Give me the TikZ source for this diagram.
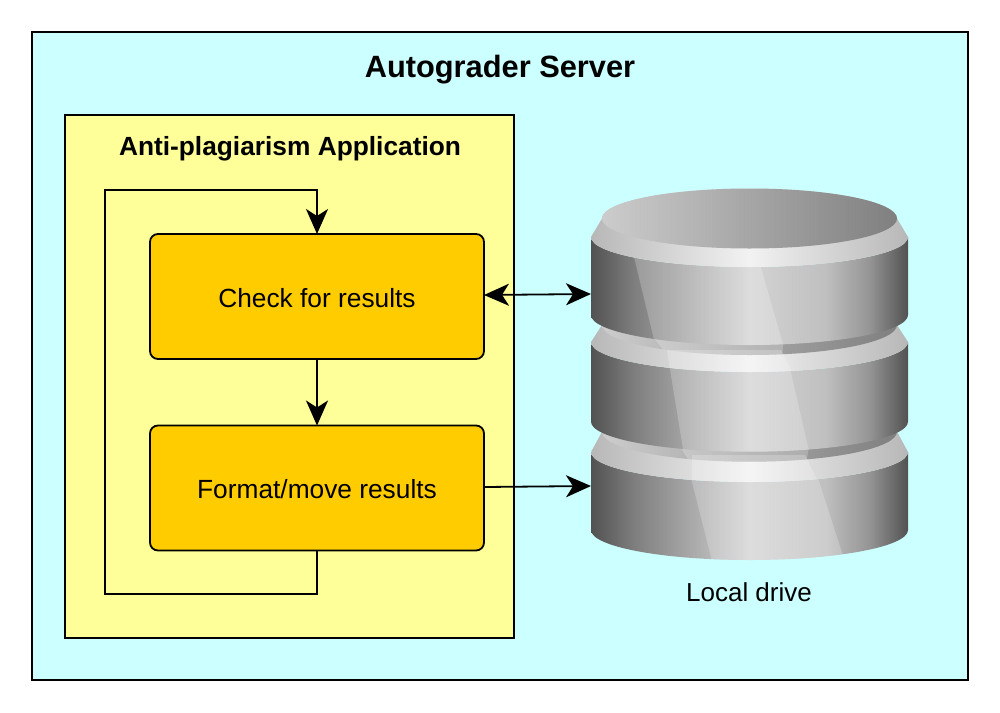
\documentclass[tikz,border=0pt]{standalone}
\usepackage{fontspec}
\setmainfont{Liberation Sans}
\usetikzlibrary{arrows.meta}
\definecolor{srv}{HTML}{CCFFFF}
\definecolor{appc}{HTML}{FFFF99}
\definecolor{boxc}{HTML}{FFCC00}
\pgfdeclarehorizontalshading{bodysh}{100bp}{color(0bp)=(black!68); color(25bp)=(black!68); color(32bp)=(black!50); color(50bp)=(black!17); color(62bp)=(black!25); color(69bp)=(black!42); color(75bp)=(black!68); color(100bp)=(black!68)}
\pgfdeclarehorizontalshading{bevelsh}{100bp}{color(0bp)=(black!28); color(25bp)=(black!28); color(50bp)=(black!5); color(75bp)=(black!28); color(100bp)=(black!28)}
\pgfdeclarehorizontalshading{topsh}{100bp}{color(0bp)=(black!20); color(25bp)=(black!20); color(75bp)=(black!50); color(100bp)=(black!50)}
\newcommand{\bodyp}[2]{(591,#1) -- (591,#2) arc[start angle=180,end angle=360,x radius=158.5pt,y radius=30pt] -- (908,#1) arc[start angle=360,end angle=180,x radius=158.5pt,y radius=30pt] -- cycle}
\newcommand{\bevelp}[2]{(602,#1) -- (591,#2) arc[start angle=180,end angle=360,x radius=158.5pt,y radius=30pt] -- (897,#1) arc[start angle=0,end angle=180,x radius=147.5pt,y radius=30pt] -- cycle}
\newcommand{\topp}[1]{(749.5,#1) ellipse[x radius=147.5pt,y radius=30pt]}
\newcommand{\disc}[3]{\path[shading=bodysh] \bodyp{#2}{#3};\path[shading=bevelsh] \bevelp{#1}{#2};\path[shading=topsh] \topp{#1};}
\newcommand{\bandin}[2]{\begin{scope}\clip #1;\fill[white,opacity=.22] #2;\end{scope}}
\tikzset{
  frame/.style={draw=black,line width=1.8pt,rectangle,inner sep=0pt,outer sep=0pt},
  procbox/.style={draw=black,line width=1.8pt,fill=boxc,rectangle,rounded corners=8pt,minimum width=334pt,minimum height=125pt,inner sep=0pt,outer sep=0pt,font=\fontsize{26.3}{31}\selectfont,text height=24pt,text depth=3pt},
  flow/.style={draw=black,line width=1.8pt,-{Stealth[length=25pt,width=22pt,inset=7pt]}},
  flowboth/.style={draw=black,line width=1.8pt,{Stealth[length=25pt,width=22pt,inset=7pt]}-{Stealth[length=25pt,width=22pt,inset=7pt]}}
}
\begin{document}
\begin{tikzpicture}[x=1pt,y=-1pt]
\useasboundingbox (0,0) rectangle (1000,712);
\fill[white] (0,0) rectangle (1000,712);
\node[frame,fill=srv,minimum width=936pt,minimum height=648pt] (server) at (500,356) {};
\node[font=\fontsize{30.8}{36}\selectfont\bfseries] (servertitle) at (500,70) {Autograder Server};
\node[frame,fill=appc,minimum width=449pt,minimum height=523pt] (app) at (289.5,376.5) {};
\node[font=\fontsize{26.3}{31}\selectfont\bfseries] (apptitle) at (290,149) {Anti-plagiarism Application};
\node[procbox] (check) at (317,296.5) {Check for results};
\node[procbox] (format) at (317,488) {Format/move results};
% drive, drawn from the bottom up
\disc{431.7}{452}{530}
\bandin{\bodyp{452}{530}}{(691,478) -- (713,565) -- (846,565) -- (817,475) -- cycle}
\bandin{\bevelp{431.7}{452}}{(692,455) -- (692,490) -- (822,490) -- (805,455) -- cycle}
\bandin{\topp{431.7}}{(681,448) -- (692,466) -- (806,466) -- (809,445) -- cycle}
\disc{325}{342}{421.7}
\bandin{\bodyp{342}{421.7}}{(666,345) -- (684,455) -- (810,455) -- (788,360) -- cycle}
\bandin{\bevelp{325}{342}}{(667,350) -- (671,378) -- (795,378) -- (781,350) -- cycle}
\bandin{\topp{325}}{(654,338) -- (668,356) -- (782,356) -- (784,338) -- cycle}
\disc{218.5}{237}{315}
\bandin{\bodyp{237}{315}}{(628,232) -- (656,348) -- (784,348) -- (752,236) -- cycle}
\node[font=\fontsize{26}{30}\selectfont] (drivelabel) at (749,592) {Local drive};
\coordinate (driveA) at (591,294);
\coordinate (driveB) at (591,486);
\draw[flowboth] ([yshift=1.5pt]check.east) -- (driveA);
\draw[flow] ([yshift=1pt]format.east) -- (driveB);
\draw[flow] (check.south) -- (format.north);
\coordinate (loopA) at (105,594);
\coordinate (loopB) at (105,190);
\draw[flow] (format.south) |- (loopA) -- (loopB) -| (check.north);
\end{tikzpicture}
\end{document}
